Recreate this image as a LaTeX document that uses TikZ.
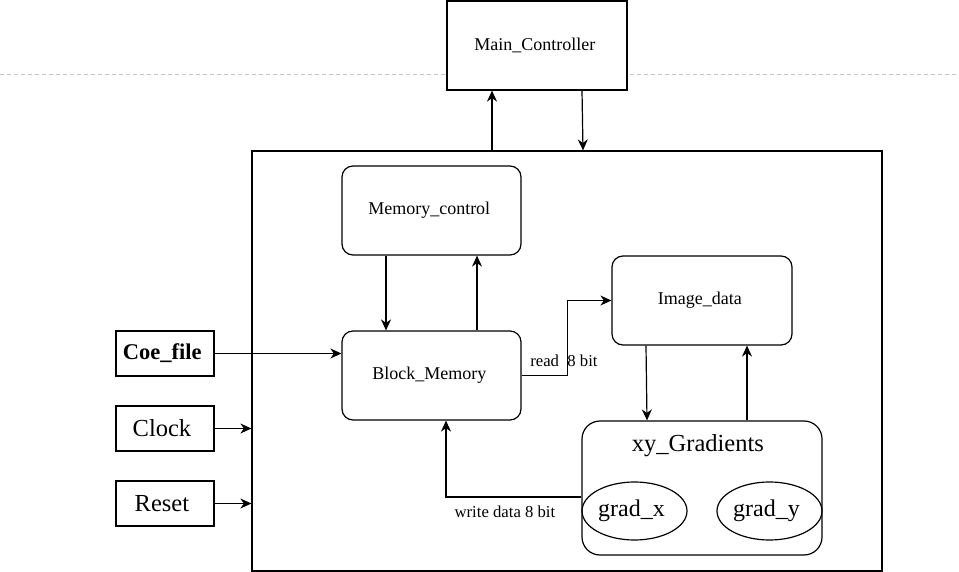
\documentclass[tikz,border=0pt]{standalone}
\usepackage{fontspec}
\setmainfont{Liberation Serif}
\usetikzlibrary{positioning,arrows.meta,shapes.geometric}

\begin{document}
\begin{tikzpicture}[x = 1pt, y = -1pt, line width = 1.2pt,
    every node/.style = { draw, align = center, inner sep = 0pt },
    unit/.style = { rounded corners = 11pt, minimum width = 179pt, minimum height = 89pt, font = \fontsize{18}{20}\selectfont },
    pin/.style = { minimum width = 98pt, minimum height = 45pt, font = \fontsize{24.5}{27}\selectfont },
    grad/.style = { ellipse, minimum width = 105pt, minimum height = 58pt, font = \fontsize{24}{27}\selectfont },
    arr/.style = { -{Stealth[length = 11pt, width = 10pt, inset = 3.5pt]} },
    tag/.style = { draw = none, inner sep = 1pt, font = \fontsize{16.7}{19}\selectfont }]
    \useasboundingbox (0,0) rectangle (959,572);
    \draw[dashed, gray!45, line width = 1pt, dash pattern = on 4pt off 3pt] (0,75) -- (959,75);
    \node (mainc) [fill = white, minimum width = 180pt, minimum height = 89pt, font = \fontsize{18}{20}\selectfont] at (537,45.5) { Main\_Controller };
    \node (outer) [minimum width = 630pt, minimum height = 420pt] at (567,361) {};
    \node (memc) [unit] at (431.5,210.5) { Memory\_control };
    \node (bmem) [unit] at (431.5,375.5) { Block\_Memory };
    \node (img) [unit, minimum width = 180pt] at (702,300.5) { Image\_data };
    \node (xyg) [rounded corners = 18pt, minimum width = 240pt, minimum height = 134pt] at (702,488) {};
    \node (xyt) [draw = none, font = \fontsize{24.5}{27}\selectfont] at (701,446) { xy\_Gradients };
    \node (gx) [grad] at (634.5,511) { grad\_x };
    \node (gy) [grad] at (769.5,511) { grad\_y };
    \node (coe) [pin, font = \fontsize{22.5}{25}\selectfont\bfseries] at (165,353.5) { Coe\_file };
    \node (clk) [pin] at (165,428.5) { Clock };
    \node (rst) [pin] at (165,503.5) { Reset };

    \draw[arr] ([xshift = -75pt]outer.north) -- ([xshift = -45pt]mainc.south);
    \draw[arr] ([xshift = 45pt]mainc.south) -- ([xshift = 16pt]outer.north);
    \draw[arr] ([xshift = -45.5pt]memc.south) -- ([xshift = -45.5pt]bmem.north);
    \draw[arr] ([xshift = 45.5pt]bmem.north) -- ([xshift = 45.5pt]memc.south);
    \draw[arr] (coe.east) -- (coe.east -| bmem.west);
    \draw[arr] (clk.east) -- (clk.east -| outer.west);
    \draw[arr] (rst.east) -- (rst.east -| outer.west);
    \draw[arr] (bmem.east) -- ++(46,0) |- (img.west);
    \node (rd) [tag] at (566,361) { read~~8 bit };
    \draw[arr] ([xshift = -56pt]img.south) -- ([xshift = -55pt]xyg.north);
    \draw[arr] ([xshift = 45pt]xyg.north) -- ([xshift = 45pt]img.south);
    \draw[arr] ([yshift = 14pt]gx.west) -| ([xshift = 14.5pt]bmem.south);
    \node (wr) [tag] at (507,512) { write data 8 bit };
\end{tikzpicture}
\end{document}
